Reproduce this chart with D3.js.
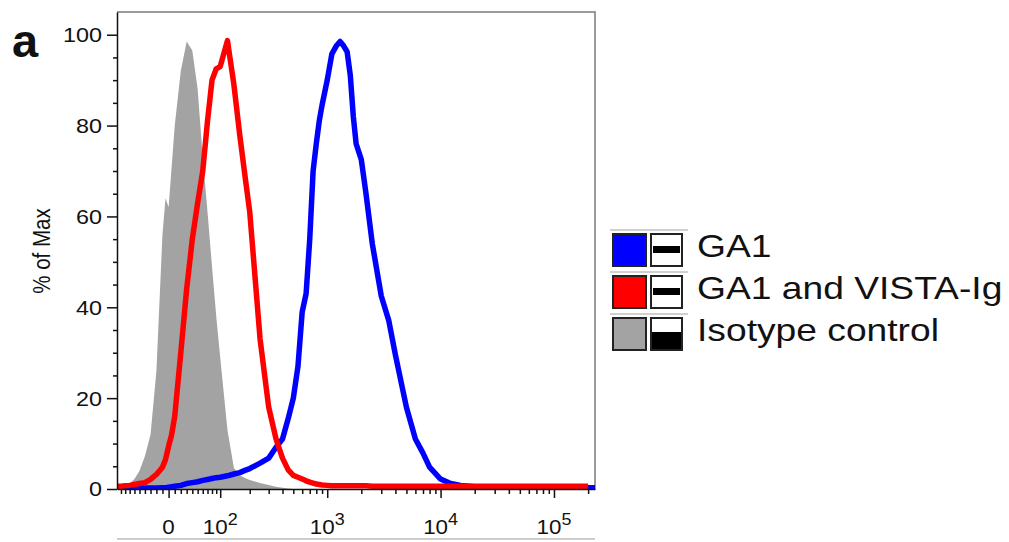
<!DOCTYPE html>
<html>
<head>
<meta charset="utf-8">
<script src="https://cdn.jsdelivr.net/npm/d3@7/dist/d3.min.js"></script>
<style>
  body { margin: 0; background: #fff; }
  text { font-family: "Liberation Sans", Arial, Helvetica, sans-serif; fill: #111; }
</style>
</head>
<body>
<div id="chart"></div>
<script>
// fluorescence bins (biexponential axis) and % of max per population
const binX = [-100, -90, -80, -70, -60, -50, -40, -30, -20, -10, -5, 0, 5, 10, 20, 30, 40, 50, 60, 70,
  80, 90, 100, 120, 140, 160, 180, 200, 250, 300, 350, 400, 450, 500, 550, 600, 650, 700, 750, 800,
  850, 900, 1000, 1100, 1200, 1300, 1400, 1500, 1600, 1700, 1800, 2000, 2200, 2500, 3000, 3500, 4000, 5000, 6000, 7000,
  8000, 10000, 12000, 15000, 20000, 50000, 100000, 200000, 230000];

const isotypePct = [0, 0, 0.3, 1.2, 2.2, 4, 7.2, 12, 26, 56, 64, 62, 71, 80, 92, 98.5, 96.5, 88, 73, 61,
  49, 38, 29, 13, 4.6, 3.0, 2.4, 2.0, 1.3, 0.9, 0.5, 0.3, 0.1, 0, 0, 0, 0, 0, 0, 0,
  0, 0, 0, 0, 0, 0, 0, 0, 0, 0, 0, 0, 0, 0, 0, 0, 0, 0, 0, 0,
  0, 0, 0, 0, 0, 0, 0, 0, 0];

const vistaPct = [0.6, 0.6, 0.7, 0.8, 1.0, 1.2, 1.4, 2.1, 3.2, 4.8, 6.5, 9.4, 12, 16, 30, 44, 55, 63, 70, 81,
  90, 92.5, 93, 98.7, 89, 78, 69, 61, 33, 18, 11, 6.8, 4.2, 3.0, 2.6, 2.2, 1.8, 1.5, 1.3, 1.1,
  1.0, 0.9, 0.8, 0.7, 0.7, 0.7, 0.7, 0.7, 0.7, 0.7, 0.7, 0.7, 0.7, 0.6, 0.6, 0.6, 0.6, 0.6, 0.6, 0.6,
  0.6, 0.6, 0.6, 0.6, 0.6, 0.6, 0.6, 0.6, 0.6];

const ga1Pct = [0.2, 0.2, 0.2, 0.2, 0.2, 0.2, 0.2, 0.2, 0.2, 0.3, 0.3, 0.4, 0.5, 0.6, 0.8, 1.2, 1.4, 1.6, 1.9, 2.1,
  2.3, 2.5, 2.6, 2.9, 3.3, 3.6, 4.1, 4.5, 5.7, 6.8, 9.2, 11, 15.5, 20, 27, 39, 43, 55, 70, 76,
  81, 84.5, 90, 95.8, 97.5, 98.5, 97.5, 96.2, 91, 82, 76, 72.5, 65, 54, 42.5, 37, 29.5, 18, 11, 7.9,
  4.8, 2.2, 1.3, 0.8, 0.5, 0.3, 0.3, 0.3, 0.3];

const legendNames = ["GA1", "GA1 and VISTA-Ig", "Isotype control"];
const legendColors = ["#0000ff", "#ff0000", "#a3a3a3"];
const legendStyle = ["line", "line", "fill"];

const yMajor = [0, 20, 40, 60, 80, 100];
const xMajor = [0, 100, 1000, 10000, 100000];
const xMajorBase = ["0", "10", "10", "10", "10"];
const xMajorExp = ["", "2", "3", "4", "5"];
const xDomain = [-100, 230000];

const width = 1009, height = 542;
const margin = {left: 117, top: 12};
const plotW = 478, plotH = 477;

// asinh (biexponential-like) transform, in decades
const W = 80;
const T = v => Math.asinh(v / W) / Math.LN10;

const xu = d3.scaleLinear().domain(xDomain.map(T)).range([0, plotW]);
const x = v => xu(T(v));
const y = d3.scaleLinear().domain([0, 105]).range([plotH, 0]);

const svg = d3.select("#chart").append("svg")
  .attr("width", width).attr("height", height);

svg.append("text")
  .attr("x", 12).attr("y", 57)
  .style("font-size", "47px").style("font-weight", "bold")
  .text("a");

const g = svg.append("g").attr("transform", `translate(${margin.left},${margin.top})`);

g.append("clipPath").attr("id", "clip")
  .append("rect").attr("width", plotW).attr("height", plotH);

// frame (top / right)
g.append("path")
  .attr("d", `M0,0H${plotW}V${plotH}`)
  .attr("fill", "none").attr("stroke", "#7a7a7a").attr("stroke-width", 1.5);

const rows = binX.map((v, i) => ({x: v, iso: isotypePct[i], vista: vistaPct[i], ga1: ga1Pct[i]}));

const plot = g.append("g").attr("clip-path", "url(#clip)");

plot.append("path")
  .datum(rows)
  .attr("fill", legendColors[2])
  .attr("d", d3.area().x(d => x(d.x)).y0(y(0)).y1(d => y(d.iso)));

const line = key => d3.line().x(d => x(d.x)).y(d => y(d[key]));

plot.append("path")
  .datum(rows)
  .attr("fill", "none").attr("stroke", legendColors[0])
  .attr("stroke-width", 5.5).attr("stroke-linejoin", "round")
  .attr("d", line("ga1"));

plot.append("path")
  .datum(rows.filter(d => d.x <= 215000))
  .attr("fill", "none").attr("stroke", legendColors[1])
  .attr("stroke-width", 5.5).attr("stroke-linejoin", "round")
  .attr("d", line("vista"));

// y axis
const yMinor = d3.range(5, 100, 5).filter(v => v % 20 !== 0);
g.append("g")
  .call(d3.axisLeft(y).tickValues(yMajor).tickSize(10).tickSizeOuter(0).tickFormat(""));
g.append("g")
  .call(d3.axisLeft(y).tickValues(yMinor).tickSize(4).tickSizeOuter(0).tickFormat(""))
  .select(".domain").remove();

g.selectAll(".tick line, .domain").attr("stroke", "#111").attr("stroke-width", 1.5);

g.selectAll(".ylab")
  .data(yMajor)
  .enter().append("text")
  .attr("class", "ylab")
  .attr("transform", d => `translate(-15,${y(d)}) scale(1.14,1)`)
  .attr("dy", "0.36em")
  .attr("text-anchor", "end")
  .style("font-size", "20.5px")
  .text(d => d);

svg.append("text")
  .attr("transform", `translate(50,251) rotate(-90) scale(1,1.13)`)
  .attr("text-anchor", "middle")
  .style("font-size", "20.5px")
  .text("% of Max");

// x axis
const xMinor = [].concat(
  d3.range(-90, 0, 10), d3.range(10, 100, 10), d3.range(200, 1000, 100),
  d3.range(2000, 10000, 1000), d3.range(20000, 100000, 10000), [200000]);

const xg = g.append("g").attr("transform", `translate(0,${plotH})`);
xg.append("g")
  .call(d3.axisBottom(xu).tickValues(xMajor.map(T)).tickSize(9).tickSizeOuter(0).tickFormat(""));
xg.append("g")
  .call(d3.axisBottom(xu).tickValues(xMinor.map(T)).tickSize(5).tickSizeOuter(0).tickFormat(""))
  .select(".domain").remove();
xg.selectAll(".tick line, .domain").attr("stroke", "#111").attr("stroke-width", 1.5);

const xl = xg.selectAll(".xlab")
  .data(xMajor)
  .enter().append("text")
  .attr("class", "xlab")
  .attr("transform", d => `translate(${x(d)},45) scale(1.12,1)`)
  .attr("text-anchor", "middle")
  .style("font-size", "20px");
xl.append("tspan").text((d, i) => xMajorBase[i]);
xl.append("tspan")
  .attr("dy", -9)
  .style("font-size", "16px")
  .text((d, i) => xMajorExp[i]);

// faint edge line below the axis labels
svg.append("line")
  .attr("x1", margin.left).attr("x2", margin.left + plotW)
  .attr("y1", 539).attr("y2", 539)
  .attr("stroke", "#bdbdbd").attr("stroke-width", 1.5);

// legend
const lg = svg.append("g").attr("transform", "translate(612,233)");
const rowH = 42;

lg.selectAll(".sep")
  .data([0, 1, 2])
  .enter().append("line")
  .attr("x1", -2).attr("x2", 76)
  .attr("y1", d => d * rowH - 3).attr("y2", d => d * rowH - 3)
  .attr("stroke", "#d0d0d0").attr("stroke-width", 2);

const item = lg.selectAll(".item")
  .data(legendNames)
  .enter().append("g")
  .attr("transform", (d, i) => `translate(0,${i * rowH})`);

item.append("rect")
  .attr("x", 1).attr("y", 1).attr("width", 33).attr("height", 32)
  .attr("fill", (d, i) => legendColors[i])
  .attr("stroke", "#222").attr("stroke-width", 2);

item.append("rect")
  .attr("x", 39).attr("y", 1).attr("width", 31).attr("height", 32)
  .attr("fill", "#fff")
  .attr("stroke", "#222").attr("stroke-width", 2);

item.filter((d, i) => legendStyle[i] === "line").append("rect")
  .attr("x", 41).attr("y", 13).attr("width", 27).attr("height", 7)
  .attr("fill", "#000");

item.filter((d, i) => legendStyle[i] === "fill").append("rect")
  .attr("x", 40).attr("y", 15).attr("width", 29).attr("height", 17)
  .attr("fill", "#000");

item.append("text")
  .attr("transform", "translate(85,24) scale(1.22,1)")
  .style("font-size", "30.5px")
  .text(d => d);
</script>
</body>
</html>
